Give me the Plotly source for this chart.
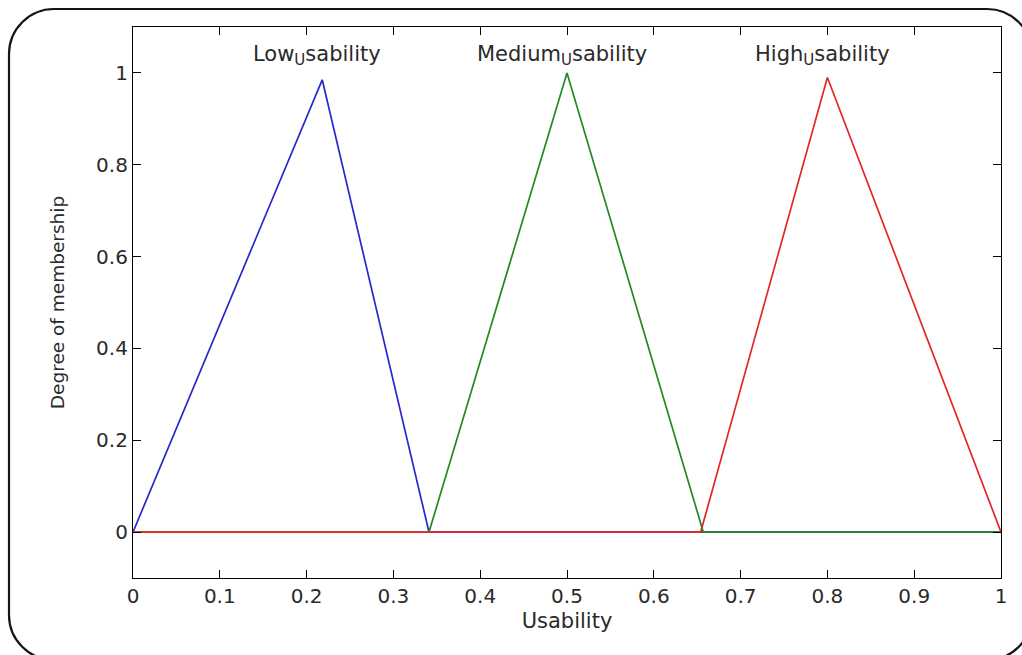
import plotly.graph_objects as go

# Membership functions of the "Usability" variable (triangle vertices)
low_x = [0.0, 0.218, 0.341, 1.0]
low_y = [0.0, 0.985, 0.0, 0.0]

medium_x = [0.0, 0.341, 0.5, 0.657, 1.0]
medium_y = [0.0, 0.0, 1.0, 0.0, 0.0]

high_x = [0.0, 0.654, 0.8, 1.0]
high_y = [0.0, 0.0, 0.99, 0.0]

mf_names = ["Low", "Medium", "High"]

x_ticks = [0, 0.1, 0.2, 0.3, 0.4, 0.5, 0.6, 0.7, 0.8, 0.9, 1]
x_tick_text = ["0", "0.1", "0.2", "0.3", "0.4", "0.5", "0.6", "0.7", "0.8", "0.9", "1"]
y_ticks = [0, 0.2, 0.4, 0.6, 0.8, 1]
y_tick_text = ["0", "0.2", "0.4", "0.6", "0.8", "1"]

FONT = "DejaVu Sans"
TEXT = "#2a2a2a"
series = [
    (low_x, low_y, "#2828cc"),
    (medium_x, medium_y, "#218a21"),
    (high_x, high_y, "#e02828"),
]

fig = go.Figure()
for xs, ys, col in series:
    fig.add_trace(go.Scatter(x=xs, y=ys, mode="lines",
                             line=dict(color=col, width=1.7),
                             showlegend=False, hoverinfo="skip"))

# label each function above its peak; "_U" is shown as a TeX-style subscript
for (xs, ys, _), name in zip(series, mf_names):
    peak = max(range(len(ys)), key=lambda i: ys[i])
    label = f"{name}<sub><span style='font-size:15px'>U</span></sub>sability"
    fig.add_annotation(x=xs[peak], y=1.038, xref="x", yref="y",
                       text=label, showarrow=False, xshift=-5,
                       xanchor="center", yanchor="middle",
                       font=dict(family=FONT, size=21, color=TEXT))

# plot area in pixels: left 133, right 1001, top 27, bottom 578
L, R, T, B = 133, 1001, 27, 578
W, H = R - L, B - T


def px(x):
    return (x - L) / W


def py(y):
    return (B - y) / H


# rounded frame around the whole figure
x0, y0, x1, y1, r = 9, 9, 1032, 660, 45
k = 0.5523 * r
pts = [
    f"M{px(x0 + r)},{py(y0)}",
    f"L{px(x1 - r)},{py(y0)}",
    f"C{px(x1 - r + k)},{py(y0)} {px(x1)},{py(y0 + r - k)} {px(x1)},{py(y0 + r)}",
    f"L{px(x1)},{py(y1 - r)}",
    f"C{px(x1)},{py(y1 - r + k)} {px(x1 - r + k)},{py(y1)} {px(x1 - r)},{py(y1)}",
    f"L{px(x0 + r)},{py(y1)}",
    f"C{px(x0 + r - k)},{py(y1)} {px(x0)},{py(y1 - r + k)} {px(x0)},{py(y1 - r)}",
    f"L{px(x0)},{py(y0 + r)}",
    f"C{px(x0)},{py(y0 + r - k)} {px(x0 + r - k)},{py(y0)} {px(x0 + r)},{py(y0)}",
    "Z",
]
fig.add_shape(type="path", path=" ".join(pts), xref="paper", yref="paper",
              line=dict(color="#151515", width=2.2), layer="above")

axis_common = dict(
    showline=True, linecolor="black", linewidth=1.2, mirror="ticks",
    ticks="inside", ticklen=8, tickwidth=1, tickcolor="black",
    showgrid=False, zeroline=False,
    tickfont=dict(family=FONT, size=20, color=TEXT),
)

fig.update_layout(
    width=1022, height=655,
    margin=dict(l=L, r=1022 - R, t=T, b=655 - B),
    paper_bgcolor="white", plot_bgcolor="white",
    xaxis=dict(range=[0, 1], tickvals=x_ticks, ticktext=x_tick_text,
               title=dict(text="Usability", standoff=6,
                          font=dict(family=FONT, size=21, color=TEXT)),
               **axis_common),
    yaxis=dict(range=[-0.1, 1.1], tickvals=y_ticks, ticktext=y_tick_text,
               title=dict(text="Degree of membership", standoff=26,
                          font=dict(family=FONT, size=18.5, color=TEXT)),
               **axis_common),
)

fig.write_html("out.html")
